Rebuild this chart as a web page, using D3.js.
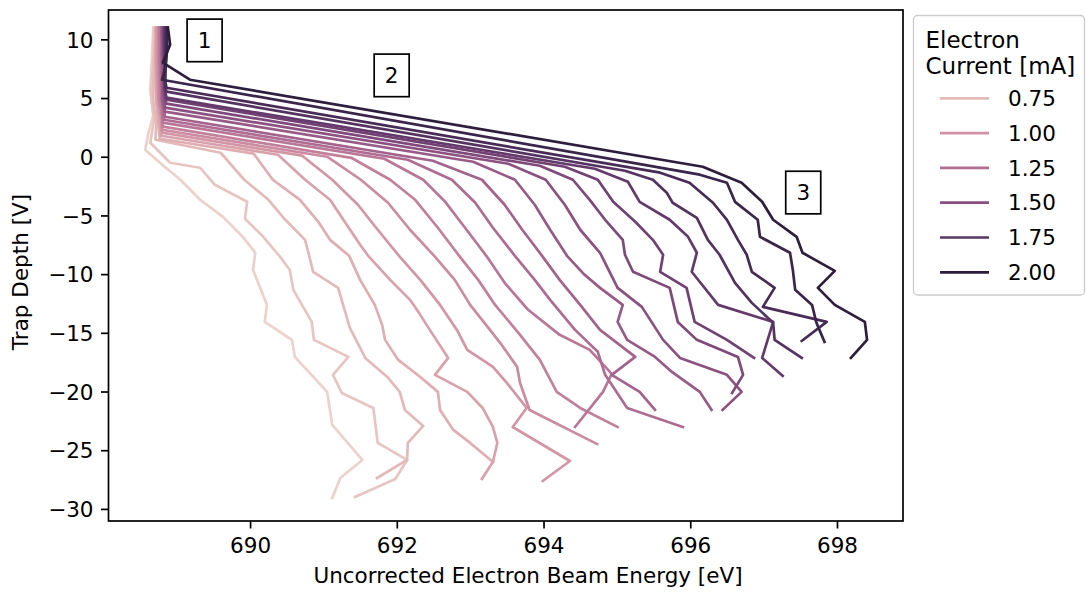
<!DOCTYPE html>
<html>
<head>
<meta charset="utf-8">
<script src="https://cdn.jsdelivr.net/npm/d3@7"></script>
<style>
  body { margin: 0; background: #fff; }
  svg { font-family: "DejaVu Sans", sans-serif; }
</style>
</head>
<body>
<svg id="chart" width="1086" height="596"></svg>
<script>
// electron current of each scan [mA]
const currents = [0.600, 0.674, 0.747, 0.821, 0.895, 0.968, 1.042, 1.116, 1.189, 1.263,
                  1.337, 1.411, 1.484, 1.558, 1.632, 1.705, 1.779, 1.853, 1.926, 2.000];

// one scan per current: [uncorrected beam energy eV, trap depth V]
const r01 = [[688.68,11.00],[688.66,8.27],[688.64,5.71],[688.68,3.58],[688.61,1.88],[688.57,0.60],[688.77,-0.51],[689.05,-1.96],[689.32,-3.67],[689.63,-5.12],[689.90,-6.82],[690.07,-8.18],[690.04,-9.63],[690.23,-12.62],[690.20,-14.07],[690.57,-15.60],[690.61,-17.05],[691.05,-20.03],[691.12,-22.85],[691.53,-25.83],[691.23,-27.37],[691.12,-29.07]];
const r02 = [[688.69,11.00],[688.68,8.27],[688.65,5.29],[688.69,3.15],[688.64,1.19],[688.91,-0.51],[689.32,-0.94],[689.52,-2.39],[689.96,-3.84],[689.93,-5.29],[690.18,-6.82],[690.41,-8.53],[690.54,-9.63],[690.59,-11.34],[690.84,-14.07],[690.87,-15.60],[691.34,-17.05],[691.13,-18.58],[691.25,-20.12],[691.68,-21.40],[691.74,-24.38],[692.14,-25.83],[691.98,-27.45],[691.43,-28.99]];
const r03 = [[688.71,11.00],[688.69,8.27],[688.68,4.86],[688.72,2.73],[688.71,1.45],[689.60,0.34],[689.92,-1.96],[690.25,-3.67],[690.48,-5.37],[690.75,-7.08],[690.86,-9.80],[691.20,-11.17],[691.36,-14.58],[691.57,-17.14],[691.87,-18.76],[692.04,-20.03],[692.11,-21.57],[692.36,-22.93],[692.15,-24.38],[692.14,-25.83],[691.73,-27.37]];
const r04 = [[688.72,11.00],[688.71,8.27],[688.72,4.86],[688.75,2.73],[688.77,1.53],[690.05,0.26],[690.31,-1.96],[690.68,-3.67],[690.93,-5.54],[691.09,-7.08],[691.35,-8.44],[691.50,-10.49],[691.70,-12.62],[691.80,-14.32],[691.84,-15.60],[692.02,-17.31],[692.32,-18.76],[692.56,-20.03],[692.59,-21.57],[692.77,-23.27],[693.00,-24.38],[693.31,-26.00]];
const r05 = [[688.72,11.00],[688.72,8.27],[688.73,4.86],[688.77,3.15],[688.79,1.79],[690.38,0.17],[690.75,-1.96],[691.09,-3.67],[691.29,-5.54],[691.50,-7.50],[691.61,-8.44],[691.91,-10.49],[692.18,-12.19],[692.32,-13.47],[692.45,-14.75],[692.70,-17.14],[692.52,-18.58],[692.96,-20.03],[693.17,-21.40],[693.31,-23.02],[693.37,-24.38],[693.31,-26.00],[693.16,-27.45]];
const r06 = [[688.73,11.00],[688.73,8.27],[688.75,4.86],[688.79,3.15],[688.80,2.05],[690.71,0.09],[691.12,-1.96],[691.47,-4.09],[691.74,-6.22],[692.03,-8.44],[692.32,-10.49],[692.59,-12.62],[692.82,-14.75],[692.96,-16.45],[693.31,-17.90],[693.50,-19.27],[693.77,-21.40],[693.58,-23.02],[694.36,-25.92],[693.99,-27.62]];
const r07 = [[688.75,11.00],[688.75,8.27],[688.76,4.86],[688.80,3.32],[688.80,2.30],[691.05,0.00],[691.51,-1.96],[691.88,-3.92],[692.18,-6.22],[692.51,-8.44],[692.79,-10.49],[693.00,-12.62],[693.27,-14.75],[693.43,-16.03],[693.64,-17.90],[693.68,-19.27],[693.81,-21.57],[694.73,-24.47]];
const r08 = [[688.76,11.00],[688.76,8.27],[688.77,4.86],[688.80,3.58],[688.81,2.56],[691.38,-0.09],[691.91,-1.96],[692.25,-3.67],[692.56,-6.05],[692.85,-8.44],[693.11,-10.49],[693.34,-12.62],[693.68,-15.17],[693.95,-17.31],[694.18,-20.03],[694.50,-21.40],[695.01,-23.02]];
const r09 = [[688.77,11.00],[688.77,8.27],[688.79,4.86],[688.81,3.84],[688.81,2.90],[691.83,-0.17],[692.36,-1.96],[692.66,-3.84],[692.93,-6.05],[693.22,-8.44],[693.47,-10.74],[693.79,-13.04],[694.22,-15.17],[694.63,-16.45],[694.93,-18.50],[694.81,-20.03],[694.43,-23.02]];
const r10 = [[688.79,11.00],[688.79,8.27],[688.80,4.86],[688.81,4.01],[688.83,3.15],[692.15,-0.26],[692.75,-1.96],[693.07,-3.92],[693.31,-6.05],[693.61,-8.44],[693.88,-10.49],[694.09,-12.19],[694.43,-14.75],[694.74,-16.62],[694.84,-18.58],[695.14,-21.40],[695.90,-23.02]];
const r11 = [[688.79,11.00],[688.80,8.27],[688.80,4.86],[688.83,4.01],[688.84,3.41],[692.49,-0.34],[693.16,-1.96],[693.47,-4.09],[693.71,-6.22],[693.98,-8.44],[694.22,-10.49],[694.50,-12.62],[694.77,-14.75],[695.25,-17.05],[694.93,-18.58],[695.31,-20.03],[695.52,-21.57]];
const r12 = [[688.80,11.00],[688.80,8.27],[688.81,4.86],[688.84,3.84],[693.04,-0.43],[693.61,-1.96],[693.88,-4.09],[694.09,-6.22],[694.32,-8.44],[694.56,-10.06],[694.77,-11.17],[695.08,-12.62],[695.01,-14.07],[695.14,-15.60],[695.52,-17.05],[695.75,-18.33],[696.13,-20.03],[696.29,-21.57]];
const r13 = [[688.81,11.00],[688.81,8.27],[688.83,4.86],[688.84,4.18],[693.52,-0.60],[694.03,-1.96],[694.29,-4.09],[694.50,-6.22],[694.77,-8.18],[695.01,-11.17],[695.34,-12.79],[695.63,-15.60],[695.86,-17.14],[696.50,-18.58],[696.70,-20.03],[696.44,-21.57]];
const r14 = [[688.81,11.00],[688.83,8.27],[688.83,5.29],[688.86,4.52],[693.95,-0.77],[694.40,-1.96],[694.63,-3.67],[694.84,-5.37],[695.08,-7.08],[695.11,-8.35],[695.22,-9.80],[695.72,-11.17],[695.83,-14.07],[696.09,-15.60],[696.65,-17.05],[696.72,-18.58],[696.57,-20.12]];
const r15 = [[688.83,11.00],[688.83,8.27],[688.84,5.54],[688.86,4.86],[694.29,-0.85],[694.74,-1.96],[694.95,-3.84],[695.25,-5.54],[695.49,-7.08],[695.63,-8.35],[695.59,-9.80],[695.95,-11.17],[696.06,-14.07],[696.50,-15.60],[696.87,-17.14]];
const r16 = [[688.84,11.00],[688.84,8.27],[688.84,5.71],[688.86,5.03],[694.70,-1.02],[695.15,-2.13],[695.31,-3.84],[695.72,-5.37],[695.97,-6.82],[696.09,-8.18],[696.02,-9.80],[696.38,-12.62],[697.13,-14.07],[696.98,-17.14],[697.26,-18.67]];
const r17 = [[688.84,11.00],[688.84,8.70],[688.84,6.14],[688.86,5.54],[695.11,-1.19],[695.49,-1.96],[695.68,-3.07],[695.76,-3.92],[696.09,-5.20],[696.24,-7.08],[696.40,-8.35],[696.61,-10.74],[696.84,-12.45],[697.13,-14.15],[697.15,-15.60],[697.52,-17.14]];
const r18 = [[688.86,11.00],[688.86,8.70],[688.84,6.56],[688.86,5.88],[695.59,-1.36],[695.99,-2.22],[696.31,-3.92],[696.50,-5.37],[696.65,-7.08],[696.77,-8.35],[696.84,-9.80],[697.15,-11.17],[696.99,-12.79],[697.86,-14.07],[697.52,-15.69]];
const r19 = [[688.87,11.00],[688.87,9.12],[688.84,7.42],[688.80,6.56],[696.13,-1.53],[696.50,-2.22],[696.61,-3.84],[696.92,-5.37],[696.95,-6.82],[697.36,-8.18],[697.40,-9.72],[697.43,-11.34],[697.66,-12.62],[697.72,-14.15],[697.83,-15.77]];
const r20 = [[688.88,11.00],[688.91,9.55],[688.81,8.01],[689.18,6.56],[696.17,-0.85],[696.70,-2.22],[696.98,-3.84],[697.13,-5.37],[697.45,-6.82],[697.53,-8.18],[697.97,-9.72],[697.74,-11.17],[697.97,-12.62],[698.38,-14.07],[698.41,-15.60],[698.19,-17.14]];
const scans = [r01, r02, r03, r04, r05, r06, r07, r08, r09, r10,
               r11, r12, r13, r14, r15, r16, r17, r18, r19, r20];

const xTicks = [690, 692, 694, 696, 698];
const yTicks = [-30, -25, -20, -15, -10, -5, 0, 5, 10];
const legendLevels = [0.75, 1.00, 1.25, 1.50, 1.75, 2.00];

// boxed region labels
const regionText = ["1", "2", "3"];
const regionEnergy = [689.38, 691.93, 697.54];
const regionDepth = [9.91, 6.93, -3.05];

// seaborn default sequential palette (cubehelix, light .85 -> dark .15)
function cubehelix(v) {
  const a = 0.8 * v * (1 - v) / 2;
  const phi = 2 * Math.PI * (0.4 * v);
  const c = Math.cos(phi), s = Math.sin(phi);
  const cl = t => Math.round(255 * Math.max(0, Math.min(1, t)));
  const r = v + a * (-0.14861 * c + 1.78277 * s);
  const g = v + a * (-0.29227 * c - 0.90649 * s);
  const b = v + a * (1.97294 * c);
  return `rgb(${cl(r)},${cl(g)},${cl(b)})`;
}
const hueNorm = d3.scaleLinear().domain(d3.extent(currents)).range([0.85, 0.15]);
const colour = c => cubehelix(hueNorm(c));

const svg = d3.select("#chart");
const box = { left: 108.5, right: 903, top: 10, bottom: 521 };

const x = d3.scaleLinear().domain([688.07, 698.9]).range([box.left, box.right]);
const y = d3.scaleLinear().domain([-31.03, 12.5]).range([box.bottom, box.top]);

const line = d3.line().x(d => x(d[0])).y(d => y(d[1]));

// scans, light to dark
svg.append("g").selectAll("path")
  .data(scans)
  .enter().append("path")
  .attr("d", line)
  .attr("fill", "none")
  .attr("stroke", (d, i) => colour(currents[i]))
  .attr("stroke-width", 2.7)
  .attr("stroke-linejoin", "round")
  .attr("stroke-linecap", "square");

// boxed labels
const reg = svg.append("g").selectAll("g")
  .data(regionText)
  .enter().append("g")
  .attr("transform", (d, i) => `translate(${x(regionEnergy[i])},${y(regionDepth[i])})`);
reg.append("rect")
  .attr("x", -17.5).attr("y", -21.3).attr("width", 35).attr("height", 42.6)
  .attr("fill", "white").attr("stroke", "black").attr("stroke-width", 1.7);
reg.append("text")
  .attr("text-anchor", "middle").attr("y", 7.7)
  .attr("font-size", 21.5)
  .text(d => d);

// axes
const fmtTick = d3.format("d");
const xAxis = svg.append("g")
  .attr("transform", `translate(0,${box.bottom})`)
  .call(d3.axisBottom(x).tickValues(xTicks).tickFormat(fmtTick).tickSize(7.5).tickPadding(9.5).tickSizeOuter(0));
const yAxis = svg.append("g")
  .attr("transform", `translate(${box.left},0)`)
  .call(d3.axisLeft(y).tickValues(yTicks).tickFormat(fmtTick).tickSize(7.5).tickPadding(7.5).tickSizeOuter(0));
[xAxis, yAxis].forEach(g => {
  g.select(".domain").remove();
  g.selectAll(".tick line").attr("stroke", "black").attr("stroke-width", 1.7);
  g.selectAll(".tick text").attr("fill", "black").attr("font-size", 21.5)
    .attr("font-family", "DejaVu Sans");
});
yAxis.selectAll(".tick text").attr("dy", "0.36em");

// frame
svg.append("rect")
  .attr("x", box.left).attr("y", box.top)
  .attr("width", box.right - box.left).attr("height", box.bottom - box.top)
  .attr("fill", "none").attr("stroke", "black").attr("stroke-width", 1.7);

// axis titles
svg.append("text")
  .attr("x", 528).attr("y", 583)
  .attr("text-anchor", "middle").attr("font-size", 21.5)
  .text("Uncorrected Electron Beam Energy [eV]");
svg.append("text")
  .attr("transform", "translate(27.5,272) rotate(-90)")
  .attr("text-anchor", "middle").attr("font-size", 21.5)
  .text("Trap Depth [V]");

// legend
const leg = svg.append("g");
leg.append("rect")
  .attr("x", 913.5).attr("y", 15.5).attr("width", 171).attr("height", 279.5)
  .attr("rx", 4).attr("fill", "white").attr("fill-opacity", 0.8)
  .attr("stroke", "#cccccc").attr("stroke-width", 1.3);
leg.append("text").attr("x", 925.5).attr("y", 47.5).attr("font-size", 23).text("Electron");
leg.append("text").attr("x", 925.5).attr("y", 74).attr("font-size", 23).text("Current [mA]");
const entry = leg.selectAll("g.entry")
  .data(legendLevels)
  .enter().append("g")
  .attr("class", "entry")
  .attr("transform", (d, i) => `translate(0,${98.3 + i * 34.8})`);
entry.append("line")
  .attr("x1", 940).attr("x2", 989)
  .attr("stroke", d => colour(d)).attr("stroke-width", 2.7);
entry.append("text")
  .attr("x", 1008).attr("y", 7.7).attr("font-size", 21.5)
  .text(d => d3.format(".2f")(d));
</script>
</body>
</html>
